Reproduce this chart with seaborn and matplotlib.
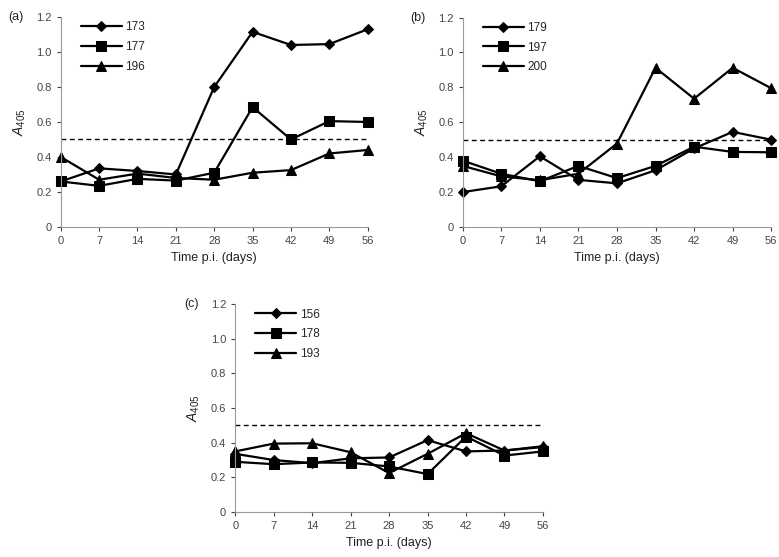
import matplotlib
matplotlib.use('Agg')
import matplotlib.pyplot as plt
import seaborn as sns

days = [0, 7, 14, 21, 28, 35, 42, 49, 56]

# panel (a)
a_173 = [0.26, 0.335, 0.32, 0.30, 0.80, 1.115, 1.04, 1.045, 1.13]
a_177 = [0.26, 0.235, 0.275, 0.265, 0.31, 0.685, 0.50, 0.605, 0.60]
a_196 = [0.40, 0.27, 0.305, 0.28, 0.27, 0.31, 0.325, 0.42, 0.44]
# panel (b)
b_179 = [0.20, 0.233, 0.405, 0.27, 0.25, 0.325, 0.45, 0.545, 0.50]
b_197 = [0.38, 0.305, 0.262, 0.35, 0.28, 0.35, 0.46, 0.43, 0.428]
b_200 = [0.35, 0.29, 0.268, 0.305, 0.478, 0.912, 0.735, 0.912, 0.795]
# panel (c)
c_156 = [0.336, 0.30, 0.282, 0.31, 0.315, 0.415, 0.35, 0.355, 0.375]
c_178 = [0.29, 0.276, 0.286, 0.284, 0.263, 0.219, 0.436, 0.326, 0.35]
c_193 = [0.35, 0.395, 0.397, 0.345, 0.225, 0.336, 0.455, 0.355, 0.38]

cutoff = 0.5

panels = [
    ('(a)', [('173', a_173), ('177', a_177), ('196', a_196)]),
    ('(b)', [('179', b_179), ('197', b_197), ('200', b_200)]),
    ('(c)', [('156', c_156), ('178', c_178), ('193', c_193)]),
]
markers = ['D', 's', '^']
msizes = [5, 7, 7]

sns.set_style('ticks')
plt.rcParams['font.family'] = ['Liberation Sans', 'DejaVu Sans']
plt.rcParams['mathtext.fontset'] = 'custom'
plt.rcParams['mathtext.it'] = 'Liberation Sans:italic'
plt.rcParams['mathtext.rm'] = 'Liberation Sans'

fig = plt.figure(figsize=(7.79, 5.57), dpi=100)
rects = [
    [0.078, 0.5925, 0.394, 0.377],
    [0.594, 0.5925, 0.396, 0.376],
    [0.302, 0.0808, 0.395, 0.373],
]

for (tag, series), rect in zip(panels, rects):
    ax = fig.add_axes(rect)
    for (name, vals), m, ms in zip(series, markers, msizes):
        sns.lineplot(x=days, y=vals, ax=ax, color='black', marker=m, markersize=ms,
                     markeredgecolor='black', linewidth=1.6, label=name, clip_on=False)
    ax.axhline(cutoff, color='black', linestyle=(0, (3.5, 2.5)), linewidth=1.0)
    ax.set_xlim(0, 56)
    ax.set_ylim(0, 1.2)
    ax.set_xticks(days)
    ax.set_yticks([0, 0.2, 0.4, 0.6, 0.8, 1.0, 1.2])
    ax.set_yticklabels(['0', '0.2', '0.4', '0.6', '0.8', '1.0', '1.2'])
    ax.tick_params(labelsize=8, colors='#444444', length=3, width=0.8)
    for s in ['top', 'right']:
        ax.spines[s].set_visible(False)
    for s in ['left', 'bottom']:
        ax.spines[s].set_color('#999999')
        ax.spines[s].set_linewidth(0.8)
    ax.set_xlabel('Time p.i. (days)', fontsize=9, color='#222222', labelpad=4)
    ax.set_ylabel(r'$A_{405}$', fontsize=10, color='#222222', labelpad=6)
    leg = ax.legend(loc='upper left', bbox_to_anchor=(0.03, 1.03), frameon=False,
                    fontsize=8.5, handlelength=3.5, handletextpad=0.3, labelspacing=0.65)
    ax.text(-0.12, 1.0, tag, transform=ax.transAxes, fontsize=9, color='#222222',
            ha='right', va='center')

fig.savefig('out.png', dpi=100)
